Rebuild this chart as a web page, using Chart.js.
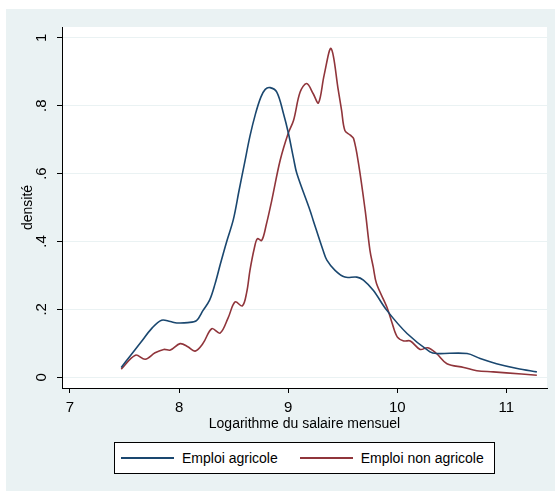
<!DOCTYPE html>
<html>
<head>
<meta charset="utf-8">
<script src="https://cdn.jsdelivr.net/npm/chart.js@4"></script>
<style>
  body { margin: 0; background: #fff; }
  #wrap { position: relative; width: 555px; height: 491px; }
  #bg { position: absolute; left: 6px; top: 9px; width: 549px; height: 482px; background: #eaf2f3; }
  #chart { position: absolute; left: 0; top: 0; }
  #legend {
    position: absolute; left: 114px; top: 442px; width: 373px; height: 30px;
    background: #fff; border: 1px solid #000; white-space: nowrap;
    display: flex; align-items: center; padding: 0 0 0 6px; box-sizing: content-box;
    font: 14px "Liberation Sans", Arial, sans-serif; color: #000;
  }
  #legend .item { display: flex; align-items: center; margin-right: 22px; white-space: nowrap; flex: none; }
  #legend .swatch { width: 53px; height: 2px; margin-right: 8px; flex: none; }
</style>
</head>
<body>
<div id="wrap">
  <div id="bg"></div>
  <canvas id="chart" width="555" height="491"></canvas>
  <div id="legend"></div>
</div>
<script>
// log monthly wage (x) and estimated density (y)
const agriX = [7.47, 7.55, 7.65, 7.75, 7.84, 7.92, 7.98, 8.08, 8.16, 8.22, 8.28, 8.33, 8.38,
  8.437, 8.498, 8.55, 8.6, 8.65, 8.7, 8.75, 8.79, 8.835, 8.896, 8.957, 9.003, 9.05, 9.08, 9.2,
  9.23, 9.32, 9.355, 9.43, 9.52, 9.63, 9.69, 9.78, 9.905, 10.09, 10.3, 10.36, 10.64, 10.76,
  10.91, 11.1, 11.28];
const agriY = [0.029, 0.062, 0.103, 0.144, 0.168, 0.164, 0.16, 0.161, 0.167, 0.197, 0.227, 0.275, 0.335,
  0.4, 0.465, 0.55, 0.63, 0.71, 0.775, 0.825, 0.848, 0.853, 0.84, 0.777, 0.718, 0.644, 0.6, 0.492,
  0.462, 0.374, 0.345, 0.315, 0.295, 0.295, 0.286, 0.256, 0.197, 0.129, 0.075, 0.07, 0.07, 0.055,
  0.04, 0.026, 0.016];

const nonAgriX = [7.47, 7.6, 7.69, 7.78, 7.86, 7.92, 8.01, 8.08, 8.147, 8.22, 8.3, 8.376, 8.45,
  8.514, 8.58, 8.62, 8.65, 8.69, 8.718, 8.758, 8.8, 8.85, 8.927, 9.0, 9.05, 9.11, 9.17, 9.23,
  9.278, 9.33, 9.394, 9.46, 9.49, 9.52, 9.57, 9.6, 9.645, 9.706, 9.75, 9.78, 9.81, 9.905, 9.95,
  10.0, 10.06, 10.12, 10.21, 10.28, 10.36, 10.456, 10.61, 10.73, 10.88, 11.0, 11.28];
const nonAgriY = [0.024, 0.065, 0.053, 0.072, 0.082, 0.08, 0.099, 0.09, 0.077, 0.1, 0.143, 0.13, 0.175,
  0.222, 0.21, 0.25, 0.315, 0.38, 0.408, 0.403, 0.45, 0.521, 0.639, 0.718, 0.757, 0.84, 0.865, 0.835,
  0.808, 0.89, 0.968, 0.845, 0.786, 0.727, 0.713, 0.703, 0.63, 0.492, 0.374, 0.325, 0.276, 0.207, 0.163,
  0.119, 0.107, 0.107, 0.082, 0.087, 0.07, 0.04, 0.029, 0.019, 0.016, 0.013, 0.006];

const seriesLabels = ['Emploi agricole', 'Emploi non agricole'];
const seriesColors = ['#1a476f', '#90353b'];
const xTicks = [7, 8, 9, 10, 11];
const yTicks = [0, 0.2, 0.4, 0.6, 0.8, 1];
const xTitle = 'Logarithme du salaire mensuel';
const yTitle = 'densité';

const toPoints = (xs, ys) => xs.map((x, i) => ({ x: x, y: ys[i] }));
const titleFont = { family: '"Liberation Sans", Arial, sans-serif', size: 14 };
const tickFont = { family: '"Liberation Sans", Arial, sans-serif', size: 15 };

// white plot region on the tinted background
const plotBackground = {
  id: 'plotBackground',
  beforeDraw(chart) {
    const { ctx, chartArea: a } = chart;
    ctx.save();
    ctx.fillStyle = '#fff';
    ctx.fillRect(a.left, a.top, a.right - a.left, a.bottom - a.top);
    ctx.restore();
  }
};

const chart = new Chart(document.getElementById('chart'), {
  type: 'line',
  data: {
    datasets: [
      { label: seriesLabels[0], data: toPoints(agriX, agriY), borderColor: seriesColors[0] },
      { label: seriesLabels[1], data: toPoints(nonAgriX, nonAgriY), borderColor: seriesColors[1] }
    ]
  },
  options: {
    responsive: false,
    animation: false,
    devicePixelRatio: 1,
    layout: { padding: { left: 0, right: 8, top: 27, bottom: 53 } },
    elements: {
      point: { radius: 0 },
      line: { borderWidth: 1.6, tension: 0.35, fill: false }
    },
    plugins: { legend: { display: false }, tooltip: { enabled: false } },
    scales: {
      x: {
        type: 'linear',
        min: 6.927,
        max: 11.373,
        afterBuildTicks: s => { s.ticks = xTicks.map(v => ({ value: v })); },
        afterFit: s => { s.height = 50; },
        grid: { drawOnChartArea: false, tickColor: '#000', tickLength: 5 },
        border: { color: '#000', width: 1 },
        ticks: { font: tickFont, color: '#000', padding: 6, maxRotation: 0, autoSkip: false },
        title: { display: true, text: xTitle, font: titleFont, color: '#000', padding: { top: 0, bottom: 5 } }
      },
      y: {
        min: -0.0316,
        max: 1.0316,
        afterBuildTicks: s => { s.ticks = yTicks.map(v => ({ value: v })); },
        afterFit: s => { s.width = 62; },
        grid: { color: '#eaf2f3', tickColor: '#000', tickLength: 5, lineWidth: 1 },
        border: { color: '#000', width: 1 },
        ticks: {
          font: tickFont, color: '#000', padding: 9, minRotation: 90, maxRotation: 90,
          crossAlign: 'center', autoSkip: false,
          callback: v => (v === 0 || v === 1) ? String(v) : String(v).replace(/^0/, '')
        },
        title: { display: true, text: yTitle, font: titleFont, color: '#000', padding: { top: 20, bottom: 0 } }
      }
    }
  },
  plugins: [plotBackground]
});

// legend box drawn from the datasets
const legend = document.getElementById('legend');
chart.data.datasets.forEach(ds => {
  const item = document.createElement('div');
  item.className = 'item';
  const sw = document.createElement('span');
  sw.className = 'swatch';
  sw.style.background = ds.borderColor;
  const txt = document.createElement('span');
  txt.textContent = ds.label;
  item.appendChild(sw);
  item.appendChild(txt);
  legend.appendChild(item);
});
</script>
</body>
</html>
